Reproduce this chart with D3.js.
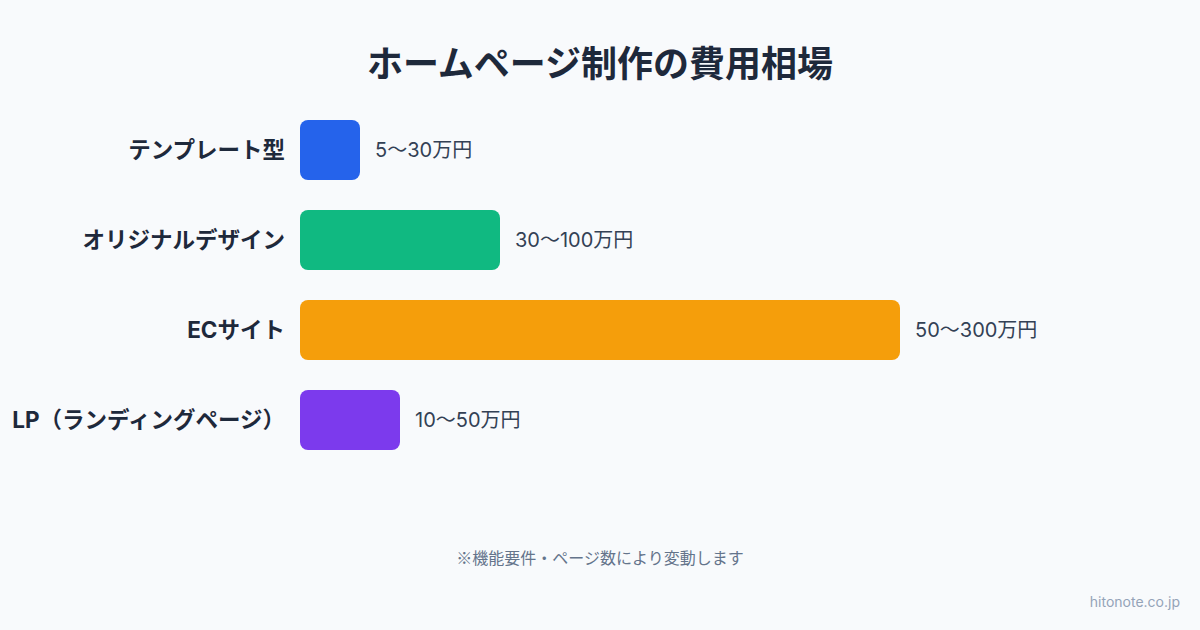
<!DOCTYPE html>
<html>
<head>
<meta charset="utf-8">
<script src="https://cdn.jsdelivr.net/npm/d3@7"></script>
<style>
  body { margin: 0; background: #f8fafc; }
  svg { display: block; font-family: Inter, "Noto Sans CJK JP", "Noto Sans", sans-serif; }
</style>
</head>
<body>
<script>
var width = 1200;
var height = 630;

// data
var categories = ["テンプレート型", "オリジナルデザイン", "ECサイト", "LP（ランディングページ）"];
var maxValues = [30, 100, 300, 50];
var valueLabels = ["5〜30万円", "30〜100万円", "50〜300万円", "10〜50万円"];
var colors = ["#2563eb", "#10b981", "#f59e0b", "#7c3aed"];

var svg = d3.select("body").append("svg").attr("width", width).attr("height", height);

svg.append("rect").attr("width", width).attr("height", height).attr("fill", "#f8fafc");

var x = d3.scaleLinear().domain([0, 300]).range([300, 900]);
var y = d3.scaleBand().domain(categories).range([105, 465]).paddingInner(1 / 3).paddingOuter(1 / 6);

// title
svg.append("text")
    .attr("x", width / 2)
    .attr("y", 77)
    .attr("text-anchor", "middle")
    .attr("font-size", 36)
    .attr("font-weight", 700)
    .attr("fill", "#1e293b")
    .text("ホームページ制作の費用相場");

var rows = svg.selectAll("g.row").data(categories).join("g").attr("class", "row");

// bars
rows.append("rect")
    .attr("x", x(0))
    .attr("y", function(d) { return y(d); })
    .attr("width", function(d, i) { return x(maxValues[i]) - x(0); })
    .attr("height", y.bandwidth())
    .attr("rx", 8)
    .attr("fill", function(d, i) { return colors[i]; });

// category labels
rows.append("text")
    .attr("x", 285)
    .attr("y", function(d) { return y(d) + y.bandwidth() / 2; })
    .attr("dy", "0.35em")
    .attr("text-anchor", "end")
    .attr("font-size", 22.5)
    .attr("font-weight", 700)
    .attr("fill", "#1e293b")
    .text(function(d) { return d; });

// value labels
rows.append("text")
    .attr("x", function(d, i) { return x(maxValues[i]) + 15; })
    .attr("y", function(d) { return y(d) + y.bandwidth() / 2; })
    .attr("dy", "0.35em")
    .attr("font-size", 20)
    .attr("fill", "#334155")
    .text(function(d, i) { return valueLabels[i]; });

// note
svg.append("text")
    .attr("x", width / 2)
    .attr("y", 564)
    .attr("text-anchor", "middle")
    .attr("font-size", 16)
    .attr("font-family", "'Noto Sans CJK JP', sans-serif")
    .attr("fill", "#64748b")
    .text("※機能要件・ページ数により変動します");

svg.append("text")
    .attr("x", 1180)
    .attr("y", 607)
    .attr("text-anchor", "end")
    .attr("font-size", 14)
    .attr("fill", "#94a3b8")
    .text("hitonote.co.jp");
</script>
</body>
</html>
